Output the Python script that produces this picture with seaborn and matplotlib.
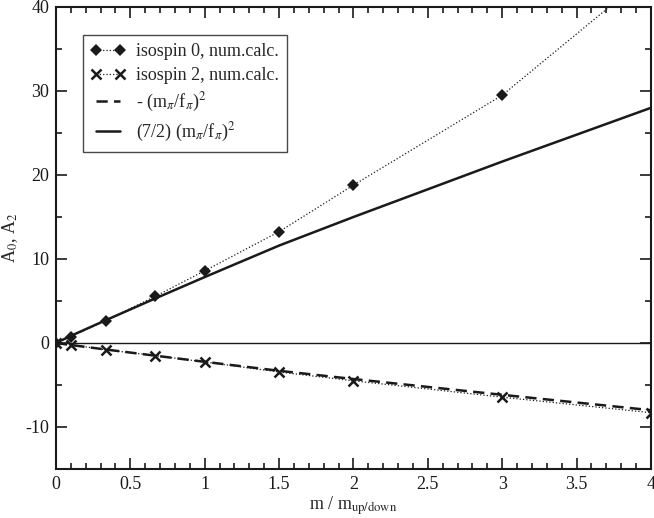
import numpy as np
import pandas as pd
import seaborn as sns
import matplotlib
matplotlib.use('Agg')
import matplotlib.pyplot as plt
from matplotlib.ticker import MultipleLocator

# values
mass = [0, 0.1, 0.333, 0.667, 1.0, 1.5, 2.0, 3.0, 4.0]
iso0 = [0, 0.75, 2.65, 5.55, 8.6, 13.25, 18.8, 29.5, 44.1]
iso2 = [0, -0.2, -0.8, -1.5, -2.26, -3.45, -4.5, -6.45, -8.3]
chpt_a2 = [0, -0.24, -0.77, -1.51, -2.24, -3.31, -4.29, -6.17, -8.0]
chpt_a0 = [0, 0.85, 2.7, 5.3, 7.85, 11.6, 15.0, 21.6, 28.0]

df = pd.DataFrame({'m': mass, 'iso0': iso0, 'iso2': iso2,
                   'a2': chpt_a2, 'a0': chpt_a0})

sns.set_theme(style='ticks')
plt.rcParams['font.family'] = ['Liberation Serif', 'DejaVu Serif']
plt.rcParams['mathtext.fontset'] = 'stix'
plt.rcParams['axes.unicode_minus'] = False
plt.rcParams['font.size'] = 12

fig = plt.figure(figsize=(6.54, 5.18), dpi=100)
ax = fig.add_axes([0.0856, 0.0946, 0.9098, 0.8919])

ax.axhline(0, color='k', lw=1.0, zorder=1)

sns.lineplot(data=df, x='m', y='iso0', ax=ax, color='k', marker='D',
             markersize=6, markeredgewidth=0, linestyle=':', lw=0.9,
             estimator=None, label='isospin 0, num.calc.')
sns.lineplot(data=df, x='m', y='iso2', ax=ax, color='k', marker='x',
             markersize=7, markeredgewidth=1.8, markeredgecolor='k',
             linestyle=':', lw=0.9,
             estimator=None, label='isospin 2, num.calc.')
sns.lineplot(data=df, x='m', y='a2', ax=ax, color='k', linestyle=(0, (4.5, 2.5)),
             lw=1.8, estimator=None, label=r'- (m$_\pi$/f$_\pi$)$^2$')
sns.lineplot(data=df, x='m', y='a0', ax=ax, color='k', linestyle='-',
             lw=1.8, estimator=None, label=r'(7/2) (m$_\pi$/f$_\pi$)$^2$')

ax.set_xlim(0, 4)
ax.set_ylim(-15, 40)
ax.xaxis.set_major_locator(MultipleLocator(0.5))
ax.xaxis.set_minor_locator(MultipleLocator(0.1))
ax.yaxis.set_major_locator(MultipleLocator(10))
ax.yaxis.set_minor_locator(MultipleLocator(5))
ax.set_xticks([0, 0.5, 1, 1.5, 2, 2.5, 3, 3.5, 4])
ax.set_xticklabels(['0', '0.5', '1', '1.5', '2', '2.5', '3', '3.5', '4'])

ax.tick_params(which='both', direction='in', top=True, right=True,
               labelsize=13, colors='k', width=1.2)
ax.tick_params(which='major', length=8, pad=5)
ax.tick_params(which='minor', length=4)
for sp in ax.spines.values():
    sp.set_linewidth(1.5)
    sp.set_color('k')

ax.set_xlabel(r'm / m$_{\mathrm{up/down}}$', fontsize=13, labelpad=1)
ax.set_ylabel(r'A$_0$, A$_2$', fontsize=13, labelpad=0)
ax.yaxis.set_label_coords(-0.06, 0.5)

leg = ax.legend(loc='upper left', bbox_to_anchor=(0.045, 0.939), numpoints=2,
                handlelength=1.9, fontsize=13, frameon=True, fancybox=False,
                borderpad=0.45, labelspacing=0.38, handletextpad=0.6,
                borderaxespad=0)
leg.get_frame().set_edgecolor('k')
leg.get_frame().set_linewidth(1.0)

fig.savefig('out.png', dpi=100)
